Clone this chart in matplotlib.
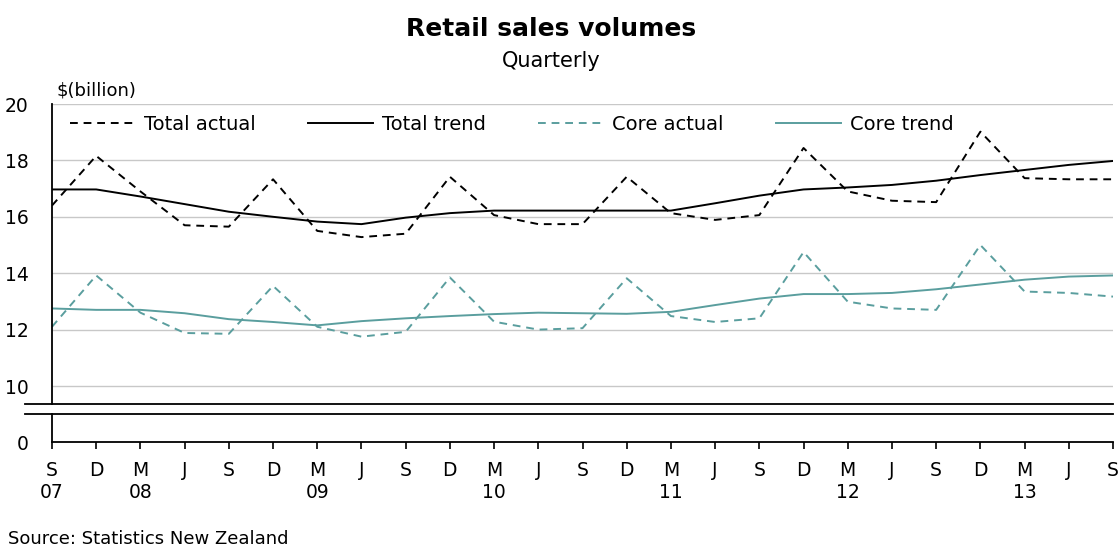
import matplotlib
matplotlib.use("Agg")
import matplotlib.pyplot as plt
from matplotlib.lines import Line2D

W, H = 1118, 548

# quarterly series, Sep 2007 .. Sep 2013, $ billion
months = ["S", "D", "M", "J"] * 6 + ["S"]
years = {0: "07", 2: "08", 6: "09", 10: "10", 14: "11", 18: "12", 22: "13"}

total_actual = [16.4, 18.16, 16.9, 15.7, 15.65, 17.33, 15.5, 15.28, 15.4,
                17.42, 16.06, 15.74, 15.74, 17.42, 16.13, 15.89, 16.06,
                18.44, 16.9, 16.57, 16.52, 19.02, 17.37, 17.33, 17.33]
total_trend = [16.97, 16.97, 16.72, 16.45, 16.18, 16.0, 15.83, 15.74, 15.97,
               16.13, 16.22, 16.22, 16.22, 16.22, 16.22, 16.48, 16.75,
               16.97, 17.04, 17.13, 17.28, 17.48, 17.66, 17.84, 17.98]
core_actual = [12.1, 13.92, 12.6, 11.88, 11.85, 13.55, 12.1, 11.75, 11.92,
               13.85, 12.28, 12.0, 12.05, 13.82, 12.48, 12.27, 12.4,
               14.75, 12.99, 12.75, 12.7, 15.0, 13.35, 13.3, 13.17]
core_trend = [12.75, 12.7, 12.7, 12.58, 12.37, 12.27, 12.15, 12.3, 12.4,
              12.48, 12.55, 12.6, 12.58, 12.56, 12.63, 12.87, 13.1,
              13.26, 13.26, 13.3, 13.43, 13.6, 13.77, 13.88, 13.92]

xs = list(range(len(months)))
teal = "#5a9e9e"


def fy(py):
    return 1 - py / H


plt.rcParams["font.family"] = "DejaVu Sans"
fig = plt.figure(figsize=(W / 100, H / 100), dpi=100)

# main panel
ax = fig.add_axes([52 / W, fy(404), (1113 - 52) / W, (404 - 104) / H])
ax.set_xlim(0, 24)
ax.set_ylim(10 - 18 / 28.2, 20)
ax.set_yticks(range(10, 21, 2))
ax.set_xticks([])
ax.tick_params(axis="y", length=0, pad=17, labelsize=13.5)
ax.grid(axis="y", color="#c8c8c8", lw=1)
ax.set_axisbelow(True)
for s in ["top", "right", "bottom"]:
    ax.spines[s].set_visible(False)
ax.spines["left"].set_linewidth(1.3)

dash = (4, 3)
ax.plot(xs, total_actual, color="black", lw=1.4, dashes=dash, label="Total actual")
ax.plot(xs, total_trend, color="black", lw=1.4, label="Total trend")
ax.plot(xs, core_actual, color=teal, lw=1.4, dashes=dash, label="Core actual")
ax.plot(xs, core_trend, color=teal, lw=1.4, label="Core trend")

ax.legend(ncol=4, loc="center left", bbox_to_anchor=(70 / W, fy(124)),
          bbox_transform=fig.transFigure, frameon=False, fontsize=14,
          handlelength=3.35, handletextpad=0.45, columnspacing=2.7,
          borderpad=0, borderaxespad=0)

# strip below the axis break, holding zero
low = fig.add_axes([52 / W, fy(442), (1113 - 52) / W, (442 - 414) / H])
low.set_xlim(0, 24)
low.set_ylim(0, 1)
low.set_yticks([0])
low.tick_params(axis="y", length=0, pad=17, labelsize=13.5)
low.set_xticks(xs)
low.set_xticklabels([m + ("\n" + years[i] if i in years else "")
                     for i, m in enumerate(months)], linespacing=1.15)
low.tick_params(axis="x", length=5, width=1.2, direction="out", pad=9,
                labelsize=13.5)
for s in ["top", "right"]:
    low.spines[s].set_visible(False)
low.spines["left"].set_linewidth(1.3)
low.spines["bottom"].set_linewidth(1.3)

# break marks
for py in (404, 414):
    fig.add_artist(Line2D([25 / W, 1113 / W], [fy(py), fy(py)],
                          color="black", lw=1.3))

fig.text(551.5 / W, fy(36), "Retail sales volumes", ha="center",
         va="baseline", fontsize=18, fontweight="bold")
fig.text(551.5 / W, fy(67), "Quarterly", ha="center", va="baseline",
         fontsize=15)
fig.text(57 / W, fy(96), "$(billion)", ha="left", va="baseline", fontsize=13)
fig.text(8 / W, fy(539), "Source: Statistics New Zealand", ha="left",
         va="center", fontsize=13)

fig.savefig("out.png", dpi=100)
